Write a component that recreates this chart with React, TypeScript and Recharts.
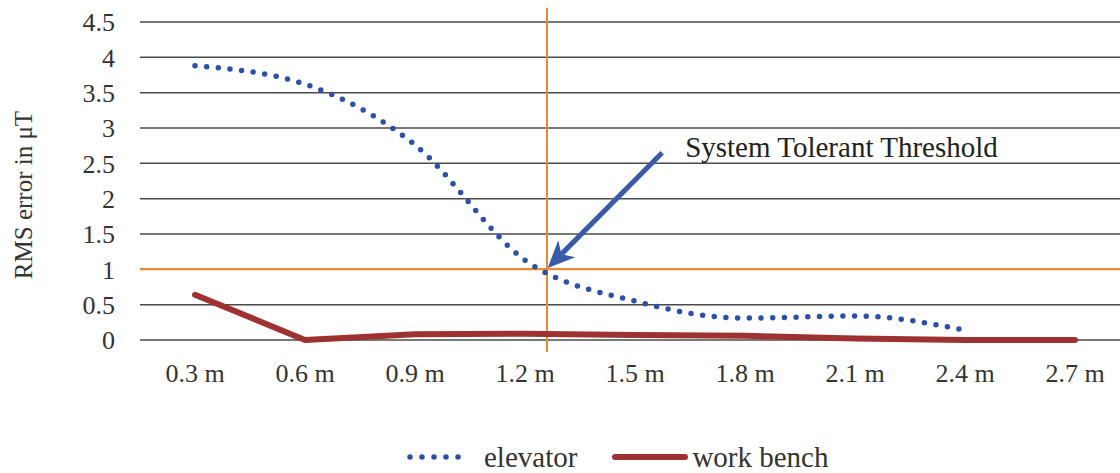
import React from 'react';
import { LineChart, Line, XAxis, YAxis, CartesianGrid, ReferenceLine, Legend } from 'recharts';

const distances = [0.3, 0.6, 0.9, 1.2, 1.5, 1.8, 2.1, 2.4, 2.7];
const elevator: (number | null)[] = [3.88, 3.62, 2.76, 1.13, 0.55, 0.31, 0.34, 0.14, null];
const workBench = [0.64, 0.0, 0.08, 0.09, 0.07, 0.06, 0.02, 0.0, 0.0];
const yTicks = [0, 0.5, 1, 1.5, 2, 2.5, 3, 3.5, 4, 4.5];
const thresholdY = 1;
const thresholdX = 1.26;
const arrowStart = { x: 1.574, y: 2.65 };
const arrowEnd = { x: 1.262, y: 1.02 };
const annotationText = 'System Tolerant Threshold';

const data = distances.map((d, i) => ({ d, elevator: elevator[i], workBench: workBench[i] }));

const FONT = '"Liberation Serif", "Times New Roman", serif';
const BLUE = '#2c50aa';
const RED = '#9e3232';
const ORANGE = '#ee8a2e';
const ARROW = '#3a5aa8';

const ArrowShape = (props: any) => {
  const { x1, y1, x2, y2 } = props;
  const dx = x2 - x1;
  const dy = y2 - y1;
  const len = Math.hypot(dx, dy) || 1;
  const ux = dx / len;
  const uy = dy / len;
  const nx = -uy;
  const ny = ux;
  const headLen = 27;
  const headW = 12;
  const bx = x2 - ux * headLen;
  const by = y2 - uy * headLen;
  const mx = x2 - ux * headLen * 0.72;
  const my = y2 - uy * headLen * 0.72;
  return (
    <g>
      <line x1={x1} y1={y1} x2={mx} y2={my} stroke={ARROW} strokeWidth={5} />
      <polygon
        points={`${x2},${y2} ${bx + nx * headW},${by + ny * headW} ${mx},${my} ${bx - nx * headW},${by - ny * headW}`}
        fill={ARROW}
      />
      <text x={x1 + 23} y={y1 + 4} fontFamily={FONT} fontSize={29} fill="#222">
        {annotationText}
      </text>
    </g>
  );
};

const renderLegend = (props: any) => {
  const { payload } = props;
  return (
    <div style={{ display: 'flex', alignItems: 'center', height: 28, fontFamily: FONT, fontSize: 29, color: '#333' }}>
      {payload.map((item: any) => {
        const isDotted = item.dataKey === 'elevator';
        return (
          <div key={item.value} style={{ display: 'flex', alignItems: 'center', marginRight: isDotted ? 35 : 0 }}>
            {isDotted ? (
              <svg width={66} height={10} style={{ marginRight: 11 }}>
                <line x1={3} y1={5} x2={63} y2={5} stroke={BLUE} strokeWidth={5.5} strokeDasharray="0 12" strokeLinecap="round" />
              </svg>
            ) : (
              <svg width={76} height={10} style={{ marginRight: 4 }}>
                <line x1={3} y1={5} x2={73} y2={5} stroke={RED} strokeWidth={6} strokeLinecap="round" />
              </svg>
            )}
            <span style={{ lineHeight: '28px' }}>{item.value}</span>
          </div>
        );
      })}
    </div>
  );
};

export default function App() {
  return (
    <div style={{ position: 'absolute', left: 0, top: 0, width: 1120, height: 473, overflow: 'hidden', background: '#fff' }}>
      <LineChart width={1130} height={473} data={data} margin={{ top: 22, right: 0, bottom: 45, left: 0 }}>
        <CartesianGrid vertical={false} stroke="#4a4a4a" strokeWidth={1.5} />
        <XAxis
          dataKey="d"
          type="number"
          domain={[0.15, 2.85]}
          ticks={distances}
          tickFormatter={(v: number) => `${v} m`}
          axisLine={false}
          tickLine={false}
          height={60}
          tickMargin={18}
          tick={{ fontFamily: FONT, fontSize: 26, fill: '#333' }}
          interval={0}
        />
        <YAxis
          type="number"
          domain={[0, 4.5]}
          ticks={yTicks}
          axisLine={false}
          tickLine={false}
          width={140}
          tickMargin={19}
          tick={{ fontFamily: FONT, fontSize: 26, fill: '#333' }}
          label={{
            content: (p: any) => {
              const vb = p.viewBox || { x: 0, y: 22, height: 318 };
              const cx = 32;
              const cy = vb.y + vb.height / 2 + 14;
              return (
                <text x={cx} y={cy} transform={`rotate(-90, ${cx}, ${cy})`} textAnchor="middle" fontFamily={FONT} fontSize={25} fill="#333">
                  RMS error in μT
                </text>
              );
            },
          }}
        />
        <ReferenceLine y={thresholdY} stroke={ORANGE} strokeWidth={2} />
        <ReferenceLine
          segment={[{ x: thresholdX, y: -0.17 }, { x: thresholdX, y: 4.7 }]}
          stroke={ORANGE}
          strokeWidth={2}
          ifOverflow="visible"
        />
        <Line
          type="linear"
          dataKey="workBench"
          name="work bench"
          stroke={RED}
          strokeWidth={6}
          strokeLinecap="round"
          strokeLinejoin="round"
          dot={false}
          activeDot={false}
          isAnimationActive={false}
        />
        <Line
          type="monotone"
          dataKey="elevator"
          name="elevator"
          stroke={BLUE}
          strokeWidth={5.5}
          strokeDasharray="0 11.7"
          strokeLinecap="round"
          dot={false}
          activeDot={false}
          isAnimationActive={false}
        />
        <ReferenceLine
          segment={[arrowStart, arrowEnd]}
          shape={ArrowShape}
          ifOverflow="visible"
        />
        <Legend
          verticalAlign="bottom"
          content={renderLegend}
          wrapperStyle={{ top: 443, left: 407, bottom: 'auto', width: 520, height: 28 }}
        />
      </LineChart>
    </div>
  );
}
